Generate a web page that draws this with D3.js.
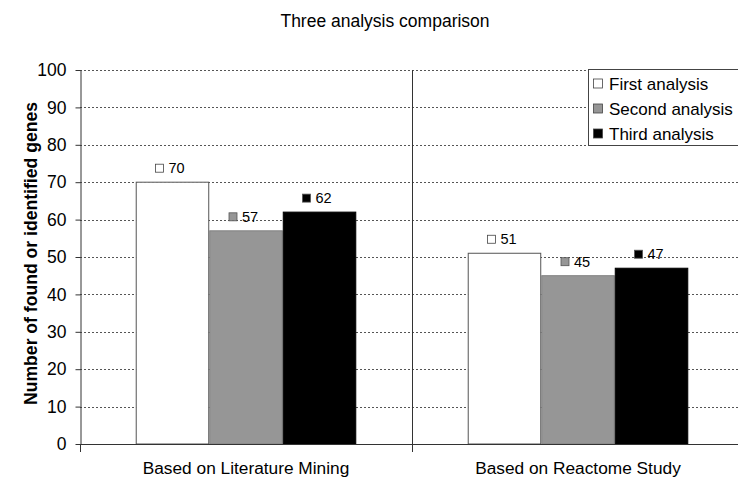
<!DOCTYPE html>
<html><head><meta charset="utf-8">
<script src="https://cdn.jsdelivr.net/npm/d3@7"></script>
<style>body{margin:0;background:#fff}svg{display:block;font-family:"Liberation Sans",Arial,sans-serif}</style>
</head><body><svg id="c" width="738" height="478"></svg>
<script>
const categories = ["Based on Literature Mining", "Based on Reactome Study"];
const seriesNames = ["First analysis", "Second analysis", "Third analysis"];
const firstValues = [70, 51];
const secondValues = [57, 45];
const thirdValues = [62, 47];
const yTicks = [0,10,20,30,40,50,60,70,80,90,100];
const seriesColors = ["#ffffff", "#969696", "#000000"];
const seriesStroke = ["#555555", "#808080", "#000000"];

const values = [firstValues, secondValues, thirdValues];
const svg = d3.select("#c");
const pLeft = 80, pRight = 744, pTop = 70, pBottom = 444;

const x0 = d3.scaleBand().domain(categories).range([pLeft, pRight]).paddingInner(0).paddingOuter(0);
const x1 = d3.scaleBand().domain(seriesNames).range([0, x0.bandwidth()]).paddingInner(0).paddingOuter(0.758);
const y = d3.scaleLinear().domain([0, 100]).range([pBottom, pTop]);

// gridlines
svg.append("g").selectAll("line").data(yTicks.filter(d => d > 0)).join("line")
  .attr("x1", pLeft).attr("x2", pRight)
  .attr("y1", d => Math.round(y(d)) + 0.5).attr("y2", d => Math.round(y(d)) + 0.5)
  .attr("stroke", "#555").attr("stroke-width", 1).attr("stroke-dasharray", "2,2");

// bars
categories.forEach((cat, ci) => {
  const g = svg.append("g").attr("transform", `translate(${x0(cat)},0)`);
  seriesNames.forEach((s, si) => {
    const v = values[si][ci];
    g.append("rect")
      .attr("x", x1(s) + 0.5).attr("y", y(v))
      .attr("width", x1.bandwidth() - 1).attr("height", y(0) - y(v))
      .attr("fill", seriesColors[si]).attr("stroke", seriesStroke[si]).attr("stroke-width", 1);
    const cx = x1(s) + x1.bandwidth() / 2;
    const lg = g.append("g").attr("transform", `translate(${cx},${y(v) - 14})`);
    lg.append("rect").attr("x", -17).attr("y", -4).attr("width", 8).attr("height", 8)
      .attr("fill", seriesColors[si]).attr("stroke", si === 0 ? "#444" : "#555").attr("stroke-width", 0.8);
    lg.append("text").attr("x", -4).attr("y", 5).attr("font-size", 14.5).attr("fill", "#000").text(v);
  });
});

// y axis
const yAxis = svg.append("g").attr("transform", `translate(${pLeft + 0.5},0)`)
  .call(d3.axisLeft(y).tickValues(yTicks).tickSize(5).tickSizeOuter(0).tickPadding(9));
yAxis.select(".domain").attr("stroke", "#333");
yAxis.selectAll(".tick line").attr("stroke", "#333");
yAxis.selectAll(".tick text").attr("font-size", 17.5).attr("font-family", "Liberation Sans, Arial, sans-serif").attr("fill", "#000");

// x axis
svg.append("line").attr("x1", pLeft).attr("x2", pRight).attr("y1", pBottom + 0.5).attr("y2", pBottom + 0.5).attr("stroke", "#333");
[pLeft, x0(categories[1]), pRight].forEach(xv => {
  svg.append("line").attr("x1", Math.round(xv) + 0.5).attr("x2", Math.round(xv) + 0.5)
    .attr("y1", xv === pLeft ? pBottom : pTop).attr("y2", pBottom + 8).attr("stroke", "#333");
});
svg.append("g").selectAll("text").data(categories).join("text")
  .attr("x", d => x0(d) + x0.bandwidth() / 2).attr("y", 474)
  .attr("text-anchor", "middle").attr("font-size", 17.3).text(d => d);

// title
svg.append("text").attr("x", 385).attr("y", 27).attr("text-anchor", "middle").attr("font-size", 17.5).text("Three analysis comparison");

// y title
svg.append("text").attr("transform", `translate(37,${253.5}) rotate(-90)`)
  .attr("text-anchor", "middle").attr("font-size", 17.6).attr("font-weight", "bold")
  .text("Number of found or identified genes");

// legend
const leg = svg.append("g");
leg.append("rect").attr("x", 588.5).attr("y", 69.5).attr("width", 160).attr("height", 76)
  .attr("fill", "#fff").attr("stroke", "#444");
seriesNames.forEach((s, i) => {
  const yy = 83.5 + i * 25;
  leg.append("rect").attr("x", 593.5).attr("y", yy - 4.5).attr("width", 9).attr("height", 9)
    .attr("fill", seriesColors[i]).attr("stroke", "#444").attr("stroke-width", 0.8);
  leg.append("text").attr("x", 609).attr("y", yy + 6).attr("font-size", 17).text(s);
});
</script></body></html>
